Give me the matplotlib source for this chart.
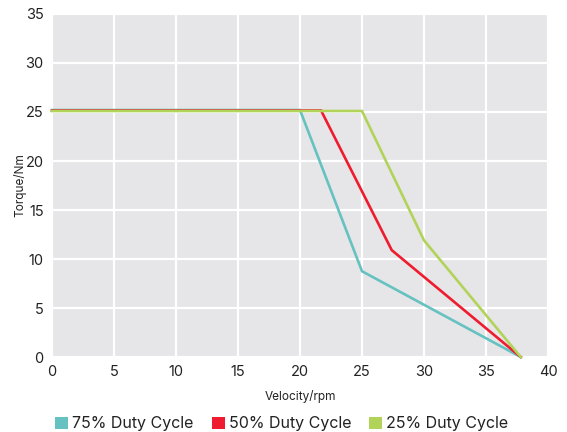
import matplotlib
matplotlib.use("Agg")
import matplotlib.pyplot as plt
from matplotlib.patches import Patch

plt.rcParams['font.family'] = ['Inter', 'DejaVu Sans']

labels = ["75% Duty Cycle", "50% Duty Cycle", "25% Duty Cycle"]
colors = ["#66c2c0", "#ee1c2e", "#b2d35a"]
x75 = [0, 20, 25, 37.8]
y75 = [25.2, 25.2, 8.75, 0]
x50 = [0, 21.7, 27.4, 37.8]
y50 = [25.15, 25.15, 10.9, 0]
x25 = [0, 25, 30, 37.8]
y25 = [25.1, 25.1, 11.9, 0]
series = [(x75, y75), (x50, y50), (x25, y25)]
xticks = [0, 5, 10, 15, 20, 25, 30, 35, 40]
yticks = [0, 5, 10, 15, 20, 25, 30, 35]

fig = plt.figure(figsize=(5.67, 4.32), dpi=100)
ax = fig.add_axes([0.0917, 0.1736, 0.8748, 0.794])
ax.set_facecolor("#e6e6e8")
for (xs, ys), c, l in zip(series, colors, labels):
    ax.plot(xs, ys, color=c, lw=1.9, label=l, solid_joinstyle='miter', clip_on=False)
ax.set_xlim(0, 40)
ax.set_ylim(0, 35)
ax.set_xticks(xticks)
ax.set_yticks(yticks)
ax.grid(True, color="white", lw=1.6)
ax.set_axisbelow(True)
for s in ax.spines.values():
    s.set_visible(False)
ax.tick_params(length=0, labelsize=10.5, colors="#222222", pad=6)
ax.set_xlabel("Velocity/rpm", fontsize=8.5, color="#222222", labelpad=8)
ax.set_ylabel("Torque/Nm", fontsize=8.5, color="#222222")
ax.yaxis.set_label_coords(-0.052, 0.5)
handles = [Patch(facecolor=c, label=l) for c, l in zip(colors, labels)]
fig.legend(handles=handles, loc="lower center", bbox_to_anchor=(0.497, -0.032), ncol=3,
           frameon=False, fontsize=11.5, handlelength=0.8, handleheight=0.8,
           handletextpad=0.25, columnspacing=1.15, labelcolor="#222222")
fig.savefig("out.png", dpi=100)
